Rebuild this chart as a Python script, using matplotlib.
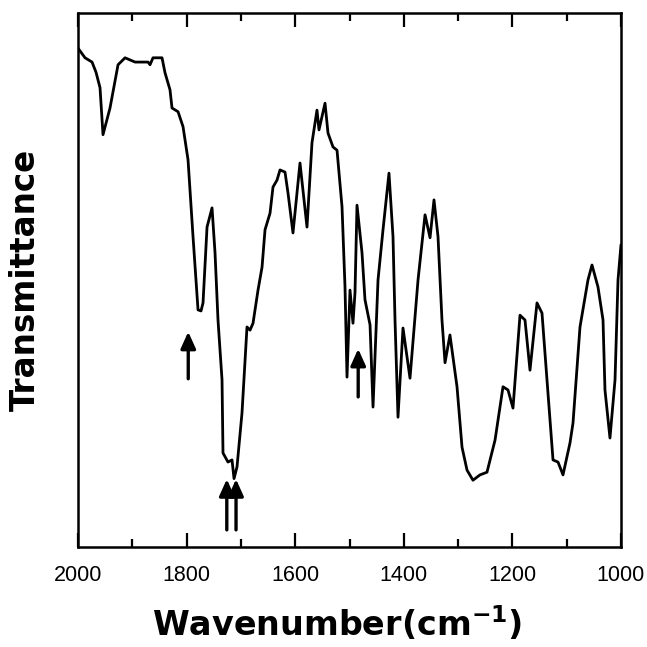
import numpy as np
import matplotlib
matplotlib.use("Agg")
import matplotlib.pyplot as plt
from matplotlib.ticker import MultipleLocator

# IR spectrum (wavenumber in cm-1, transmittance in arbitrary units)
wavenumber = [2000.0, 1987.1, 1974.2, 1966.9, 1959.5, 1954.0, 1941.1, 1926.3, 1913.4, 1895.0,
              1871.1, 1867.4, 1861.9, 1845.3, 1839.8, 1830.6, 1826.9, 1815.8, 1806.6, 1797.4,
              1788.2, 1779.0, 1773.5, 1769.8, 1762.4, 1753.2, 1747.7, 1742.2, 1734.8, 1733.0,
              1723.8, 1716.4, 1712.7, 1707.2, 1698.0, 1688.8, 1683.2, 1677.7, 1668.5, 1661.1,
              1655.6, 1646.4, 1640.9, 1633.5, 1628.0, 1618.8, 1613.3, 1604.1, 1591.2, 1578.3,
              1569.1, 1559.9, 1556.2, 1545.1, 1539.6, 1530.4, 1523.0, 1513.8, 1508.3, 1504.6,
              1499.1, 1493.6, 1489.9, 1486.2, 1477.0, 1471.5, 1462.2, 1456.7, 1447.5, 1438.3,
              1427.3, 1419.9, 1416.2, 1410.7, 1401.5, 1388.6, 1373.8, 1360.9, 1351.7, 1344.4,
              1337.0, 1329.7, 1324.1, 1315.0, 1302.0, 1292.8, 1283.6, 1272.6, 1259.7, 1246.8,
              1232.0, 1217.3, 1208.1, 1198.9, 1186.0, 1176.8, 1167.6, 1154.7, 1145.5, 1136.3,
              1125.2, 1116.0, 1106.8, 1093.9, 1088.4, 1075.5, 1060.8, 1053.4, 1042.4, 1033.1,
              1029.5, 1020.3, 1011.0, 1005.5, 1000.0]
transmittance = [93.4, 91.6, 90.8, 88.9, 86.0, 77.2, 82.2, 90.3, 91.6, 90.8,
                 90.8, 90.3, 91.6, 91.6, 88.8, 85.6, 82.2, 81.5, 78.7, 72.5,
                 58.1, 44.4, 44.2, 45.7, 59.9, 63.5, 55.1, 42.5, 31.3, 17.6,
                 15.9, 16.3, 12.8, 15.0, 25.1, 41.2, 40.6, 41.9, 48.1, 52.4,
                 59.4, 62.5, 67.4, 68.7, 70.6, 70.2, 66.3, 58.8, 71.9, 59.9,
                 75.7, 81.8, 78.1, 83.1, 77.5, 74.9, 74.3, 63.7, 48.7, 31.8,
                 48.1, 41.9, 47.6, 64.0, 55.1, 46.3, 41.6, 26.2, 50.0, 59.4,
                 70.0, 58.1, 42.5, 24.3, 41.0, 31.6, 50.0, 62.2, 57.9, 65.0,
                 58.1, 42.5, 34.5, 39.7, 30.0, 18.7, 14.4, 12.5, 13.5, 14.0,
                 20.0, 30.0, 29.4, 26.0, 43.4, 42.5, 33.1, 45.7, 43.8, 31.3,
                 16.3, 15.9, 13.5, 19.5, 23.2, 41.2, 50.0, 52.8, 48.7, 42.5,
                 29.4, 20.4, 31.3, 50.0, 56.6]

# marked bands: arrow position, tip height, tail height
arrow_wn = [1797, 1726, 1709, 1484]
arrow_tip = [40.3, 12.7, 12.7, 37.1]
arrow_tail = [31.5, 3.2, 3.2, 28.1]

plt.rcParams['mathtext.fontset'] = 'dejavusans'

fig = plt.figure(figsize=(6.47, 6.47), dpi=100)
ax = fig.add_axes([0.1206, 0.1546, 0.8392, 0.8254])

ax.plot(wavenumber, transmittance, color='black', lw=2.0,
        solid_joinstyle='round', solid_capstyle='round')

for wn, tip, tail in zip(arrow_wn, arrow_tip, arrow_tail):
    ax.annotate('', xy=(wn, tip), xytext=(wn, tail),
                arrowprops=dict(arrowstyle='-|>,head_length=1.0,head_width=0.45',
                                color='black', lw=2.4, shrinkA=0, shrinkB=0))

ax.set_xlim(2000, 1000)
ax.set_ylim(0, 100)
ax.set_yticks([])
ax.xaxis.set_major_locator(MultipleLocator(200))
ax.xaxis.set_minor_locator(MultipleLocator(100))
ax.tick_params(axis='x', which='both', direction='in', top=True, width=1.6)
ax.tick_params(axis='x', which='major', length=10, pad=13, labelsize=15.5)
ax.tick_params(axis='x', which='minor', length=6)
for lab in ax.get_xticklabels():
    lab.set_family('Liberation Sans')
for sp in ax.spines.values():
    sp.set_linewidth(1.8)

ax.set_xlabel(r'Wavenumber(cm$^{\mathbf{-1}}$)', family='DejaVu Sans',
              fontweight='bold', fontsize=24)
ax.xaxis.set_label_coords(0.477, -0.108)
ax.set_ylabel('Transmittance', family='DejaVu Sans', fontweight='bold', fontsize=23.5)
ax.yaxis.set_label_coords(-0.066, 0.5)

fig.savefig('out.png', dpi=100)
